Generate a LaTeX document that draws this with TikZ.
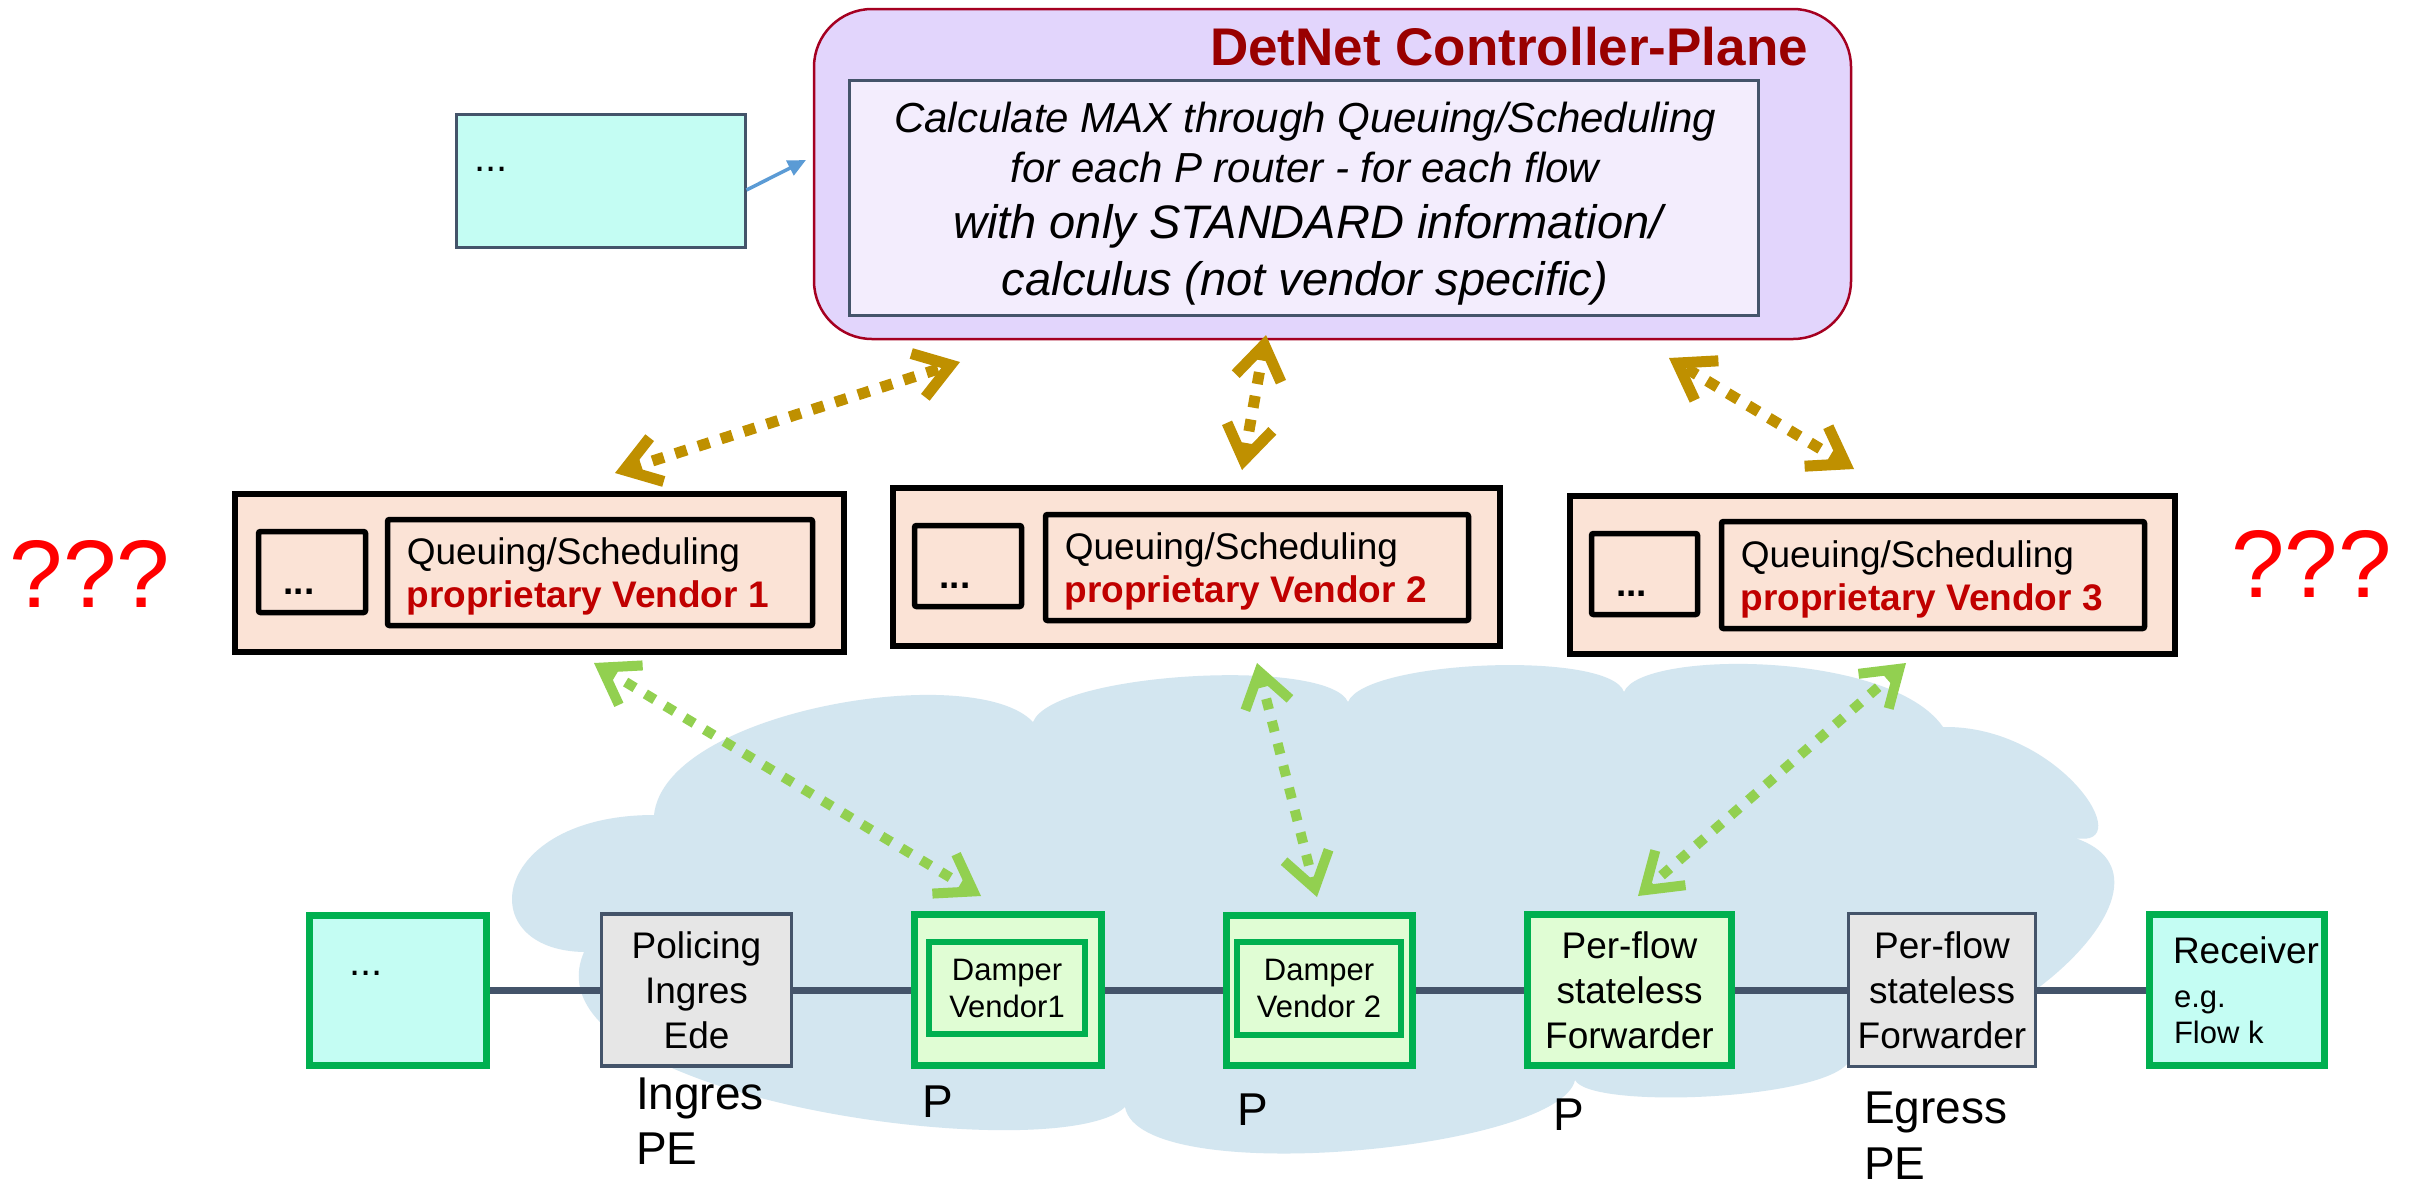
\documentclass[tikz,border=0pt]{standalone}
\usepackage{fontspec}
\setmainfont{Liberation Sans}
\usetikzlibrary{arrows.meta,calc,backgrounds}
\definecolor{ctrlred}{HTML}{A50021}
\definecolor{titlered}{HTML}{990000}
\definecolor{ctrlfill}{HTML}{E2D5FC}
\definecolor{calcfill}{HTML}{F3EDFD}
\definecolor{slate}{HTML}{44546A}
\definecolor{cyanfill}{HTML}{C4FDF3}
\definecolor{peach}{HTML}{FBE3D6}
\definecolor{vendred}{HTML}{C00000}
\definecolor{qred}{HTML}{FF0000}
\definecolor{gold}{HTML}{BF9000}
\definecolor{lgreen}{HTML}{92D050}
\definecolor{dgreen}{HTML}{00B050}
\definecolor{gfill}{HTML}{E0FDD4}
\definecolor{grayfill}{HTML}{E6E6E6}
\definecolor{cloudc}{HTML}{D3E6F0}
\definecolor{bluearr}{HTML}{5B9BD5}
\newcommand\myfs[2]{\fontsize{#1}{#2}\selectfont}
\begin{document}
\begin{tikzpicture}[x=1pt,y=-1pt,
  txt/.style={inner sep=0pt, outer sep=0pt, text=black},
  ctrlbox/.style={draw=ctrlred, line width=2.5pt, fill=ctrlfill, rounded corners=58pt, inner sep=0pt},
  calcbox/.style={draw=slate, line width=3pt, fill=calcfill, inner sep=0pt},
  cyanbox/.style={draw=slate, line width=3pt, fill=cyanfill, inner sep=0pt},
  vout/.style={draw=black, line width=6pt, fill=peach, inner sep=0pt},
  vin/.style={draw=black, line width=5.5pt, fill=peach, inner sep=0pt, rounded corners=2pt},
  gbox/.style={draw=dgreen, line width=7pt, fill=gfill, inner sep=0pt, align=center, font=\myfs{37}{45}},
  gcyan/.style={draw=dgreen, line width=7pt, fill=cyanfill, inner sep=0pt},
  graybox/.style={draw=slate, line width=3.5pt, fill=grayfill, inner sep=0pt, align=center, font=\myfs{37}{45}},
  link/.style={draw=slate, line width=7pt},
  goldarr/.style={draw=gold, line width=11pt, dash pattern=on 12pt off 12pt, >={Straight Barb[length=34pt,width=46pt]}, <->},
  greenarr/.style={draw=lgreen, line width=10pt, dash pattern=on 11pt off 12pt, >={Straight Barb[length=34pt,width=46pt]}, <->},
  bluearrow/.style={draw=bluearr, line width=3.5pt, -{Triangle[length=18pt,width=16pt]}},
  lbl/.style={txt, font=\myfs{46}{56}, anchor=base west},
  qtext/.style={txt, font=\myfs{96}{100}, text=qred, anchor=base}
]
\useasboundingbox (0,0) rectangle (2415,1184);
\begin{pgfonlayer}{background}
\fill[white] (0,0) rectangle (2415,1184);
% cloud
\fill[cloudc] (654,815)
  .. controls (665,710) and (975,660) .. (1033,722)
  .. controls (1053,672) and (1328,657) .. (1348,702)
  .. controls (1365,660) and (1610,650) .. (1624,692)
  .. controls (1640,650) and (1890,650) .. (1943,727)
  .. controls (2060,725) and (2140,850) .. (2075,838)
  .. controls (2200,880) and (2000,1060) .. (1850,1060)
  .. controls (1830,1100) and (1590,1110) .. (1575,1080)
  .. controls (1560,1150) and (1140,1190) .. (1125,1107)
  .. controls (1060,1170) and (520,1100) .. (584,952)
  .. controls (470,950) and (490,815) .. (654,815) -- cycle;
\end{pgfonlayer}

% controller plane
\node[ctrlbox, minimum width=1037pt, minimum height=330pt] (ctrl) at (1332.5,174) {};
\node[txt, anchor=base east, text=titlered, font=\myfs{53}{60}\bfseries] (title) at (1808,65) {DetNet Controller-Plane};
\node[calcbox, minimum width=909pt, minimum height=235pt] (calc) at (1303.5,197.5) {};
\node[txt, anchor=base, font=\myfs{42}{50}\itshape] (l1) at (1305,132) {Calculate MAX through Queuing/Scheduling};
\node[txt, anchor=base, font=\myfs{42}{50}\itshape] (l2) at (1305,182) {for each P router - for each flow};
\node[txt, anchor=base, font=\myfs{47}{56}\itshape] (l3) at (1308,238) {with only STANDARD information/};
\node[txt, anchor=base, font=\myfs{47}{56}\itshape] (l4) at (1305,295) {calculus (not vendor specific)};

% top-left box
\node[cyanbox, minimum width=289pt, minimum height=133pt] (tlc) at (600.5,180.5) {};
\node[txt, anchor=base west, font=\myfs{40}{48}] (tlcdots) at (474,171) {...};
\coordinate (bluetip) at (806,160);
\draw[bluearrow] ($(tlc.east)+(0,9.5)$) -- (bluetip);

% vendor boxes
\node[vout, minimum width=609pt, minimum height=158pt] (v1) at (539.5,573) {};
\node[vin, minimum width=107pt, minimum height=81pt] (v1s) at (312,572) {};
\node[vin, minimum width=425pt, minimum height=106pt] (v1t) at (600,572.5) {};
\node[txt, anchor=base, font=\myfs{37}{44}\bfseries] (v1d) at ($(v1s.center)+(-13,22)$) {...};
\node[txt, anchor=base west, font=\myfs{37}{44}] (v1q) at ($(v1t.west)+(22,-8)$) {Queuing/Scheduling};
\node[txt, anchor=base west, font=\myfs{37}{44}\bfseries, text=vendred] (v1p) at ($(v1t.west)+(22,35)$) {proprietary Vendor 1};

\node[vout, minimum width=607pt, minimum height=158pt] (v2) at (1196.5,567) {};
\node[vin, minimum width=107pt, minimum height=81pt] (v2s) at (968,566) {};
\node[vin, minimum width=423pt, minimum height=106pt] (v2t) at (1257,567.5) {};
\node[txt, anchor=base, font=\myfs{37}{44}\bfseries] (v2d) at ($(v2s.center)+(-13,22)$) {...};
\node[txt, anchor=base west, font=\myfs{37}{44}] (v2q) at ($(v2t.west)+(22,-8)$) {Queuing/Scheduling};
\node[txt, anchor=base west, font=\myfs{37}{44}\bfseries, text=vendred] (v2p) at ($(v2t.west)+(22,35)$) {proprietary Vendor 2};

\node[vout, minimum width=605pt, minimum height=158pt] (v3) at (1872.5,575) {};
\node[vin, minimum width=106pt, minimum height=81pt] (v3s) at (1644.5,574) {};
\node[vin, minimum width=423pt, minimum height=107pt] (v3t) at (1933,575) {};
\node[txt, anchor=base, font=\myfs{37}{44}\bfseries] (v3d) at ($(v3s.center)+(-13,22)$) {...};
\node[txt, anchor=base west, font=\myfs{37}{44}] (v3q) at ($(v3t.west)+(22,-8)$) {Queuing/Scheduling};
\node[txt, anchor=base west, font=\myfs{37}{44}\bfseries, text=vendred] (v3p) at ($(v3t.west)+(22,35)$) {proprietary Vendor 3};

\node[qtext] (qleft) at (90,607) {???};
\node[qtext] (qright) at (2311.5,597) {???};

% bottom chain
\node[gcyan, minimum width=177pt, minimum height=150pt] (bl) at (398,990) {};
\node[txt, anchor=base west, font=\myfs{40}{48}] (bldots) at (349,975) {...};
\node[graybox, minimum width=190pt, minimum height=152pt] (pol) at (696.5,990) {Policing\\Ingres\\Ede};
\node[gbox, minimum width=187pt, minimum height=151pt] (d1) at (1008,990) {};
\node[gbox, line width=6pt, minimum width=156pt, minimum height=92pt, font=\myfs{31}{37}] (d1i) at (1007,988) {Damper\\Vendor1};
\node[gbox, minimum width=186pt, minimum height=150pt] (d2) at (1319.5,990) {};
\node[gbox, line width=6pt, minimum width=164pt, minimum height=93pt, font=\myfs{31}{37}] (d2i) at (1319,988.5) {Damper\\Vendor 2};
\node[gbox, minimum width=204pt, minimum height=151pt] (pfg) at (1629.5,990) {Per-flow\\stateless\\Forwarder};
\node[graybox, minimum width=187pt, minimum height=153pt] (pfy) at (1942,990) {Per-flow\\stateless\\Forwarder};
\node[gcyan, minimum width=175pt, minimum height=151pt] (rcv) at (2237,990) {};
\node[txt, anchor=base west, font=\myfs{37}{44}] (rcv1) at (2173,963) {Receiver};
\node[txt, anchor=base west, font=\myfs{31}{37}] (rcv2) at (2174,1007) {e.g.};
\node[txt, anchor=base west, font=\myfs{31}{37}] (rcv3) at (2174,1043) {Flow k};

\begin{pgfonlayer}{background}
\draw[link] (bl) -- (pol);
\draw[link] (pol) -- (d1);
\draw[link] (d1) -- (d2);
\draw[link] (d2) -- (pfg);
\draw[link] (pfg) -- (pfy);
\draw[link] (pfy) -- (rcv);
\end{pgfonlayer}

% labels
\node[lbl] (ing1) at (636,1109) {Ingres};
\node[lbl] (ing2) at (636,1164) {PE};
\node[lbl] (p1) at (922,1117) {P};
\node[lbl] (p2) at (1237,1125) {P};
\node[lbl] (p3) at (1553,1130) {P};
\node[lbl] (eg1) at (1864,1123) {Egress};
\node[lbl] (eg2) at (1864,1179) {PE};

% gold arrows
\coordinate (a1s) at (615,473); \coordinate (a1e) at (960,362);
\coordinate (a2s) at (1242,470); \coordinate (a2e) at (1266,335);
\coordinate (a3s) at (1854,469); \coordinate (a3e) at (1669,358);
\draw[goldarr] (a1s) -- (a1e);
\draw[goldarr] (a2s) -- (a2e);
\draw[goldarr] (a3s) -- (a3e);
% green arrows
\coordinate (g1s) at (594,663); \coordinate (g1e) at (981,896);
\coordinate (g2s) at (1257,663); \coordinate (g2e) at (1317,897);
\coordinate (g3s) at (1906,663); \coordinate (g3e) at (1638,896);
\draw[greenarr] (g1s) -- (g1e);
\draw[greenarr] (g2s) -- (g2e);
\draw[greenarr] (g3s) -- (g3e);
\end{tikzpicture}
\end{document}
